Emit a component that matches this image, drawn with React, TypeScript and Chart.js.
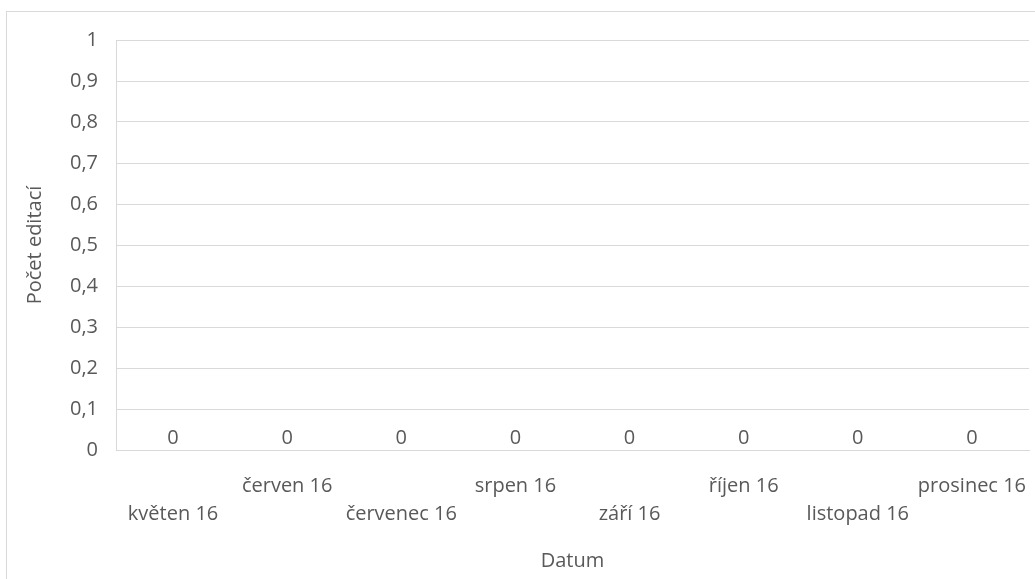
import React, { useEffect, useRef } from "react";
import { Chart, registerables } from "chart.js";

Chart.register(...registerables);

const categories = [
  "květen 16",
  "červen 16",
  "červenec 16",
  "srpen 16",
  "září 16",
  "říjen 16",
  "listopad 16",
  "prosinec 16",
];
const editCounts = [0, 0, 0, 0, 0, 0, 0, 0];
const yAxisTitle = "Počet editací";
const xAxisTitle = "Datum";

const FONT = "'Open Sans', 'DejaVu Sans', sans-serif";
const TEXT = "#595959";
const GRID = "#d9d9d9";
const FS = 20;

const dataLabelPlugin = {
  id: "dataLabels",
  afterDatasetsDraw(chart: any) {
    const ctx = chart.ctx;
    ctx.save();
    ctx.font = `${FS}px ${FONT}`;
    ctx.fillStyle = TEXT;
    ctx.textAlign = "center";
    ctx.textBaseline = "middle";
    chart.data.datasets.forEach((ds: any, di: number) => {
      const meta = chart.getDatasetMeta(di);
      meta.data.forEach((el: any, i: number) => {
        ctx.fillText(String(ds.data[i]), el.x, el.y - 12);
      });
    });
    ctx.restore();
  },
};

export default function App() {
  const ref = useRef<HTMLCanvasElement | null>(null);
  useEffect(() => {
    if (!ref.current) return;
    const chart = new Chart(ref.current, {
      type: "bar",
      data: {
        labels: categories.map((c, i) => (i % 2 === 0 ? ["", "", c] : ["", c])),
        datasets: [
          {
            label: yAxisTitle,
            data: editCounts,
            backgroundColor: "#4472c4",
          },
        ],
      },
      options: {
        animation: false,
        responsive: false,
        maintainAspectRatio: false,
        layout: {
          autoPadding: false,
          padding: { top: 40, right: 6, left: 0, bottom: 0 },
        },
        plugins: {
          legend: { display: false },
          tooltip: { enabled: false },
        },
        scales: {
          x: {
            grid: { display: false, drawTicks: false },
            border: { display: true, color: GRID },
            ticks: {
              color: TEXT,
              font: { family: FONT, size: FS, lineHeight: 1.4 },
              maxRotation: 0,
              minRotation: 0,
              autoSkip: false,
              padding: -5.5,
            },
            title: {
              display: true,
              text: xAxisTitle,
              color: TEXT,
              font: { family: FONT, size: FS },
              padding: { top: 0, bottom: 6 },
            },
            afterFit: (s: any) => {
              s.height = 129;
            },
          },
          y: {
            min: 0,
            max: 1,
            grid: { color: GRID, drawTicks: false },
            border: { display: true, color: GRID },
            ticks: {
              stepSize: 0.1,
              color: TEXT,
              padding: 18,
              font: { family: FONT, size: FS },
              callback: (v: any) =>
                String(Math.round(Number(v) * 10) / 10).replace(".", ","),
            },
            title: {
              display: true,
              text: yAxisTitle,
              color: TEXT,
              font: { family: FONT, size: FS },
              padding: { top: 23, bottom: 0 },
            },
            afterFit: (s: any) => {
              s.width = 116;
            },
          },
        },
      },
      plugins: [dataLabelPlugin],
    });
    return () => chart.destroy();
  }, []);

  return (
    <div
      style={{
        position: "fixed",
        left: 0,
        top: 0,
        width: 1035,
        height: 579,
        background: "#fff",
        overflow: "hidden",
      }}
    >
      <div
        style={{
          position: "absolute",
          left: 6,
          top: 11,
          width: 1100,
          height: 700,
          borderLeft: `1px solid ${GRID}`,
          borderTop: `1px solid ${GRID}`,
        }}
      />
      <canvas
        ref={ref}
        width={1035}
        height={579}
        style={{ position: "absolute", left: 0, top: 0 }}
      />
    </div>
  );
}
